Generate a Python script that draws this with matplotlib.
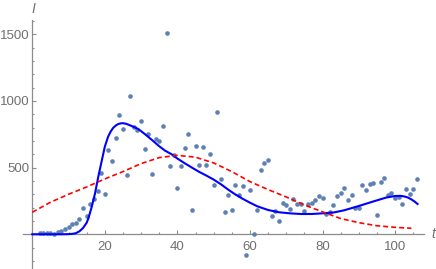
import matplotlib
matplotlib.use('Agg')
import matplotlib.pyplot as plt
from matplotlib.ticker import MultipleLocator

# Observed daily values (t = 2 .. 106)
days = list(range(2, 107))
observed = [7, 12, 12, 12, 2, 17, 25, 40, 57, 75, 87, 117, 195, 140, 230, 262,
            322, 462, 302, 632, 550, 725, 897, 792, 445,
            1037, 807, 782, 850, 637, 752, 450, 715, 700, 815,
            1512, 512, 597, 350, 512, 645, 752, 182, 662, 517,
            657, 517, 605, 370, 915, 412, 165, 295, 182, 370,
            295, 365, -155, 332, 0, 182, 482, 532, 555, 137,
            177, 102, 237, 217, 187, 265, 227, 227, 177, 227,
            232, 255, 287, 270, 152, 170, 217, 287, 307, 350,
            257, 297, 200, 195, 367, 332, 377, 382, 145, 392,
            425, 297, 312, 270, 282, 227, 342, 302, 342, 417]

# Fitted model (solid blue)
fit_t = [0, 4, 8, 10, 11, 12, 13, 14, 15, 15.5, 16.4, 17.3, 18.2, 19.1, 20,
         20.9, 21.6, 22.3, 23, 23.7, 24.4, 25, 25.8, 26.5, 28, 29.2, 31, 33,
         35, 36.6, 38.4, 40, 42, 44, 46, 48, 50, 52, 54, 56, 58, 60, 62, 65,
         68, 71, 74, 77, 80, 83, 86, 90, 94, 97.5, 100, 101.5, 102.5, 103.5,
         104.4, 105.3, 106.2]
fit_I = [0, 0, 0, 1, 3, 8, 22, 47, 87, 122, 207, 307, 432, 545, 657,
         732, 770, 798, 815, 827, 832, 833, 829, 822, 805, 790, 752, 707,
         660, 627, 600, 568, 533, 500, 468, 440, 410, 375, 335, 298, 266,
         237, 210, 182, 165, 157, 152, 152, 157, 163, 180, 212, 246, 275,
         287, 288, 284, 276, 263, 247, 227]

# Simple model (dashed red)
simple_t = [0, 5, 10, 15, 20, 25, 30, 35, 40, 45, 50, 55, 60, 65, 70, 75,
            80, 85, 90, 95, 100, 104.5]
simple_I = [165, 240, 300, 355, 415, 470, 530, 575, 592, 578, 535, 470, 395,
            335, 280, 220, 168, 118, 87, 64, 52, 45]

W, H = 436, 269
fig = plt.figure(figsize=(W / 100, H / 100), dpi=100)
ax = fig.add_axes([23.2 / W, 1.4 / H, (424.1 - 23.2) / W, (267.6 - 19.6) / H])
ax.set_xlim(-2.5, 108)
ax.set_ylim(-250, 1610)

axis_col = '#8c8c8c'
label_col = '#707070'

# Mathematica-style axes through the origin
for side in ['top', 'right']:
    ax.spines[side].set_visible(False)
ax.spines['left'].set_position(('data', 0))
ax.spines['bottom'].set_position(('data', 0))
for side in ['left', 'bottom']:
    ax.spines[side].set_color(axis_col)
    ax.spines[side].set_linewidth(0.9)

ax.xaxis.set_major_locator(MultipleLocator(20))
ax.xaxis.set_minor_locator(MultipleLocator(5))
ax.yaxis.set_major_locator(MultipleLocator(500))
ax.yaxis.set_minor_locator(MultipleLocator(100))
ax.set_xticks([20, 40, 60, 80, 100])
ax.set_yticks([500, 1000, 1500])
ax.tick_params(which='both', direction='in', color=axis_col, width=0.8)
ax.tick_params(which='major', length=3.0)
ax.tick_params(which='minor', length=1.7)
ax.tick_params(axis='x', which='major', pad=5, labelsize=9.5, labelcolor=label_col)
ax.tick_params(axis='y', which='major', pad=2, labelsize=9.5, labelcolor=label_col)
for lab in ax.get_xticklabels() + ax.get_yticklabels():
    lab.set_family('Liberation Sans')

# Data and curves
ax.scatter(days, observed, s=11, color='#5E81B5', linewidths=0, zorder=3)
ax.plot(fit_t, fit_I, color='#0000FF', linewidth=1.5, zorder=4)
ax.plot(simple_t, simple_I, color='#FF0000', linewidth=1.2,
        dashes=(3, 1.8), zorder=4)

# Axis labels at the ends of the axes
fig.text(33.5 / W, 1 - 9 / H, 'I', ha='center', va='center', style='italic',
         fontsize=10, color=label_col, family='Liberation Sans')
fig.text(433 / W, 1 - 234.5 / H, 't', ha='center', va='center', style='italic',
         fontsize=10, color=label_col, family='Liberation Sans')

fig.savefig('out.png', dpi=100)
